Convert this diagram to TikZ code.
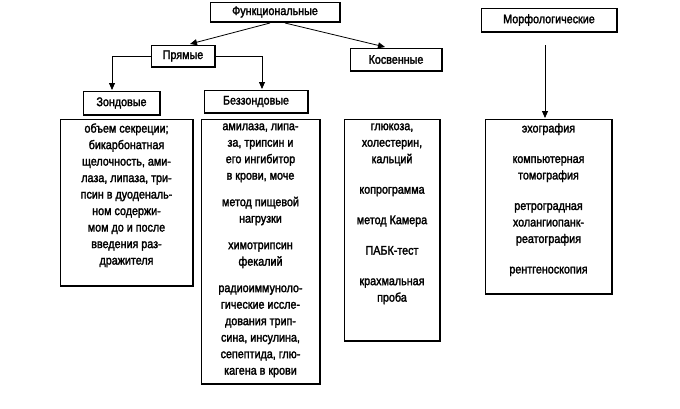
\documentclass[tikz,border=0pt]{standalone}
\usepackage{fontspec}
\setmainfont{Liberation Sans}[FakeStretch=0.86,FakeBold=2]
\usetikzlibrary{arrows.meta}
\begin{document}
\begin{tikzpicture}[x=1pt,y=-1pt,
  bx/.style={draw,line width=0.8pt,inner sep=0,font=\fontsize{12.5}{16.5}\selectfont,align=center},
  arr/.style={-{Triangle[length=7pt,width=6pt]},line width=0.8pt}]
\useasboundingbox (0,0) rectangle (680,408);
\newcommand\lbox[6]{%
  \draw[line width=0.8pt] (#2,#3) rectangle (#4,#5);
  \draw[line width=1.6pt] (#4,#3) -- (#4,#5) -- (#2,#5);
  \node[bx,draw=none,anchor=north] (#1) at ({(#2+#4)/2},#3+4) {#6};}
\newcommand\cbox[6]{%
  \draw[line width=0.8pt] (#2,#3) rectangle (#4,#5);
  \draw[line width=1.6pt] (#4,#3) -- (#4,#5) -- (#2,#5);
  \node[bx,draw=none] (#1) at ({(#2+#4)/2},{(#3+#5)/2}) {#6};
  \coordinate (#1-w) at (#2,{(#3+#5)/2});
  \coordinate (#1-e) at (#4,{(#3+#5)/2});}
\cbox{f}{210}{2}{340}{22}{Функциональные}
\cbox{m}{481}{8}{617}{32}{Морфологические}
\cbox{p}{151}{45}{215}{67}{Прямые}
\cbox{k}{350}{48}{442}{71}{Косвенные}
\cbox{z}{83}{91}{160}{115}{Зондовые}
\cbox{b}{204}{90}{308}{113}{Беззондовые}
\lbox{zl}{60}{119}{193}{286}{объем секреции;\\бикарбонатная\\щелочность, ами-\\лаза, липаза, три-\\псин в дуоденаль-\\ном содержи-\\мом до и после\\введения раз-\\дражителя}
\lbox{bl}{201}{119}{320}{384}{амилаза, липа-\\за, трипсин и\\его ингибитор\\в крови, моче\\[10pt]метод пищевой\\нагрузки\\[10pt]химотрипсин\\фекалий\\[10pt]радиоиммуноло-\\гические иссле-\\дования трип-\\сина, инсулина,\\сепептида, глю-\\кагена в крови}
\lbox{kl}{344}{119}{440}{341}{глюкоза,\\холестерин,\\кальций\\[14pt]копрограмма\\[14pt]метод Камера\\[14pt]ПАБК-тест\\[14pt]крахмальная\\проба}
\lbox{ml}{485}{119}{612}{294}{эхография\\[14pt]компьютерная\\томография\\[14pt]ретроградная\\холангиопанк-\\реатография\\[14pt]рентгеноскопия}
\draw[arr] (270,23) -- (190,44);
\draw[arr] (285,23) -- (385,47);
\draw[arr] (p-w) -| (112,90);
\draw[arr] (p-e) -| (262,89);
\draw[arr] (545,45) -- (545,118);
\end{tikzpicture}
\end{document}
